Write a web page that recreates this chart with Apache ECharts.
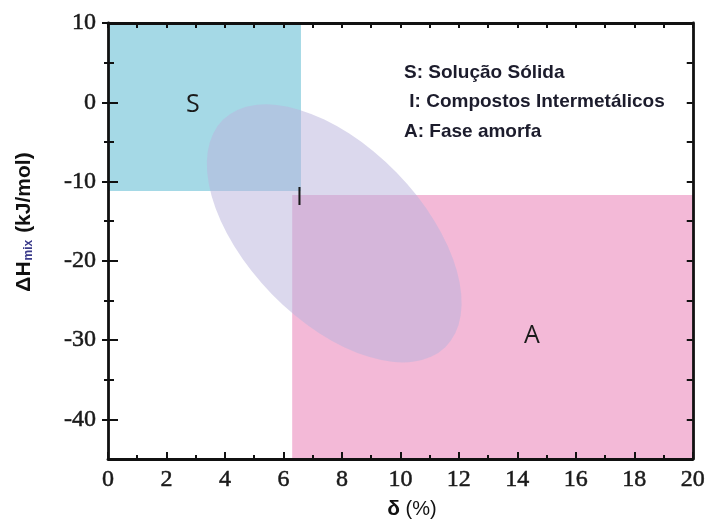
<!DOCTYPE html>
<html><head><meta charset="utf-8">
<script src="https://cdn.jsdelivr.net/npm/echarts@6/dist/echarts.min.js"></script>
<style>html,body{margin:0;padding:0;background:#fff}#c{width:708px;height:531px}</style>
</head><body><div id="c"></div>
<script>
// ---- data ----
const xRange = [0, 20];
const yRange = [-45, 10];
const yTickLabels = [-40, -30, -20, -10, 0, 10];
const yMinorTicks = [-35, -25, -15, -5, 5];
// regions: [x0, x1, y0, y1]
const solidSolutionRect = [0, 6.6, -11.2, 10];
const amorphousRect = [6.3, 20, -45, -11.7];
// intermetallic ellipse: ends of major axis and ends of minor axis (data units)
const ellipseMajorAxis = [[3.95, -2.2], [11.55, -30.9]];
const ellipseMinorAxis = [[9.83, -8.75], [5.62, -24.3]];
const regionNames = ['S', 'I', 'A'];
const regionLabelX = [2.9, 6.55, 14.5];
const regionLabelY = [-0.3, -12.1, -29.5];
const legendLines = ['S: Solução Sólida', ' I: Compostos Intermetálicos', 'A: Fase amorfa'];
const xAxisTitle = ['δ', ' (%)'];
const yAxisTitle = ['ΔH', 'mix', ' (kJ/mol)'];

// ---- styles ----
const rectColors = ['#a5d9e6', '#f3b9d7'];
const ellipseColor = 'rgba(186,181,220,0.52)';
const axisColor = '#111';
const serif = '"Liberation Serif", "DejaVu Serif", serif';
const sans = '"Liberation Sans", Arial, sans-serif';

const chart = echarts.init(document.getElementById('c'), null, {renderer: 'canvas'});

const noZeroLine = (extra) => Object.assign({show: true, onZero: false, lineStyle: {color: axisColor, width: 2.8}}, extra || {});
const baseY = (extra) => Object.assign({
  type: 'value', min: yRange[0], max: yRange[1], gridIndex: 0, z: 10,
  splitLine: {show: false}, axisLabel: {show: false}, axisLine: {show: false, onZero: false},
  axisTick: {show: false}
}, extra);
const tickLabelStyle = {fontFamily: serif, fontSize: 24, color: '#1a1a1a', textBorderColor: '#1a1a1a', textBorderWidth: 0.5};

const option = {
  animation: false,
  backgroundColor: '#fff',
  grid: {left: 108, right: 15, top: 23, bottom: 72},
  xAxis: [
    {
      type: 'value', min: xRange[0], max: xRange[1], interval: 2, position: 'bottom', z: 10,
      splitLine: {show: false},
      axisLine: noZeroLine(),
      axisTick: {show: true, inside: true, length: 7, lineStyle: {color: axisColor, width: 2}},
      minorTick: {show: true, splitNumber: 2, length: 4, lineStyle: {color: axisColor, width: 2}},
      axisLabel: Object.assign({margin: 9}, tickLabelStyle)
    },
    {
      type: 'value', min: xRange[0], max: xRange[1], interval: 1, position: 'top', z: 10,
      splitLine: {show: false}, axisLabel: {show: false},
      axisLine: noZeroLine(),
      axisTick: {show: true, inside: true, length: 5, lineStyle: {color: axisColor, width: 2}}
    }
  ],
  yAxis: [
    baseY({
      position: 'left',
      axisLine: noZeroLine(),
      axisTick: {show: true, inside: false, length: 6, customValues: yTickLabels, lineStyle: {color: axisColor, width: 2}},
      axisLabel: Object.assign({show: true, customValues: yTickLabels, margin: 12}, tickLabelStyle)
    }),
    baseY({position: 'left', axisTick: {show: true, inside: true, length: 10, customValues: yTickLabels, lineStyle: {color: axisColor, width: 2}}}),
    baseY({position: 'left', axisTick: {show: true, inside: false, length: 4, customValues: yMinorTicks, lineStyle: {color: axisColor, width: 2}}}),
    baseY({position: 'left', axisTick: {show: true, inside: true, length: 6, customValues: yMinorTicks, lineStyle: {color: axisColor, width: 2}}}),
    baseY({position: 'right', interval: 5,
      axisLine: noZeroLine(),
      axisTick: {show: true, inside: true, length: 6, lineStyle: {color: axisColor, width: 2}}})
  ],
  graphic: [
    {
      type: 'text', left: 404, top: 58, z: 100,
      style: {text: legendLines.join('\n'), font: 'bold 19px ' + sans, fill: '#1c1c2c', lineHeight: 29.5}
    },
    {
      type: 'text', x: 24, y: 222, rotation: Math.PI / 2, z: 100,
      style: {
        text: '{b|' + yAxisTitle[0] + '}{s|' + yAxisTitle[1] + '}{b|' + yAxisTitle[2] + '}',
        align: 'center', verticalAlign: 'middle',
        rich: {
          b: {fontFamily: sans, fontWeight: 'bold', fontSize: 21, fill: '#111'},
          s: {fontFamily: sans, fontWeight: 'bold', fontSize: 12, fill: '#3a3a8a', verticalAlign: 'bottom', padding: [9, 1, 0, 1]}
        }
      }
    },
    {
      type: 'text', x: 412, y: 509, z: 100,
      style: {
        text: '{d|' + xAxisTitle[0] + '}{p|' + xAxisTitle[1] + '}',
        align: 'center', verticalAlign: 'middle',
        rich: {
          d: {fontFamily: sans, fontWeight: 'bold', fontSize: 21, fill: '#111'},
          p: {fontFamily: sans, fontSize: 20, fill: '#111'}
        }
      }
    }
  ],
  series: [
    {
      type: 'custom', xAxisIndex: 0, yAxisIndex: 0, z: 2,
      encode: {x: [0, 1], y: [2, 3]},
      data: [solidSolutionRect, amorphousRect],
      renderItem: function (params, api) {
        const p0 = api.coord([api.value(0), api.value(3)]);
        const p1 = api.coord([api.value(1), api.value(2)]);
        return {type: 'rect', shape: {x: p0[0], y: p0[1], width: p1[0] - p0[0], height: p1[1] - p0[1]},
          style: {fill: rectColors[params.dataIndex]}};
      }
    },
    {
      type: 'custom', xAxisIndex: 0, yAxisIndex: 0, z: 3,
      encode: {x: [0, 2, 4, 6], y: [1, 3, 5, 7]},
      data: [[ellipseMajorAxis[0][0], ellipseMajorAxis[0][1], ellipseMajorAxis[1][0], ellipseMajorAxis[1][1],
               ellipseMinorAxis[0][0], ellipseMinorAxis[0][1], ellipseMinorAxis[1][0], ellipseMinorAxis[1][1]]],
      renderItem: function (params, api) {
        const a1 = api.coord([api.value(0), api.value(1)]);
        const a2 = api.coord([api.value(2), api.value(3)]);
        const b1 = api.coord([api.value(4), api.value(5)]);
        const b2 = api.coord([api.value(6), api.value(7)]);
        const cx = (a1[0] + a2[0] + b1[0] + b2[0]) / 4;
        const cy = (a1[1] + a2[1] + b1[1] + b2[1]) / 4;
        const rx = Math.hypot(a2[0] - a1[0], a2[1] - a1[1]) / 2;
        const ry = Math.hypot(b2[0] - b1[0], b2[1] - b1[1]) / 2;
        const ang = Math.atan2(a2[1] - a1[1], a2[0] - a1[0]);
        return {type: 'circle', shape: {cx: 0, cy: 0, r: 1}, x: cx, y: cy, scaleX: rx, scaleY: ry,
          rotation: -ang, style: {fill: ellipseColor}};
      }
    },
    {
      type: 'custom', xAxisIndex: 0, yAxisIndex: 0, z: 4,
      encode: {x: 0, y: 1},
      data: regionNames.map((n, i) => [regionLabelX[i], regionLabelY[i], n]),
      renderItem: function (params, api) {
        const p = api.coord([api.value(0), api.value(1)]);
        const t = regionNames[params.dataIndex];
        return {type: 'text', x: p[0], y: p[1],
          style: {text: t, font: '25px "Open Sans", "DejaVu Sans", sans-serif', fill: '#1a1a1a',
            align: 'center', verticalAlign: 'middle', textAlign: 'center', textVerticalAlign: 'middle'}};
      }
    }
  ]
};
chart.setOption(option);
</script>
</body></html>
